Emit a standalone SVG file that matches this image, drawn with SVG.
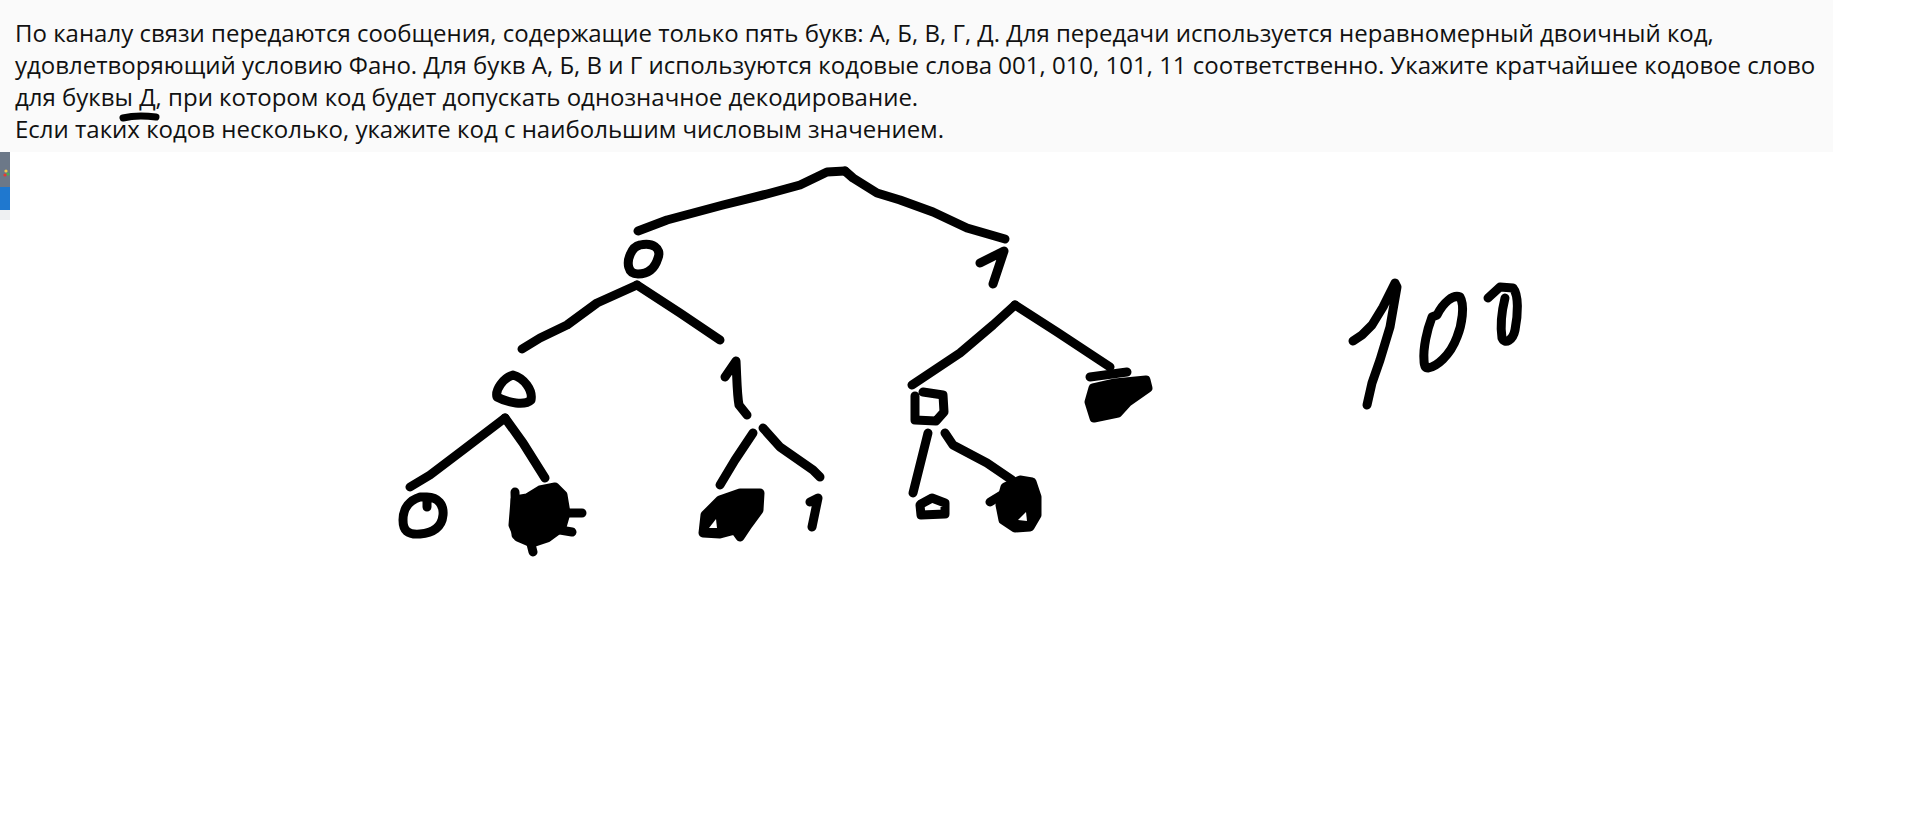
<svg xmlns="http://www.w3.org/2000/svg" width="1914" height="819" viewBox="0 0 1914 819">
<style>
.t{font-family:"Open Sans","Noto Sans","Liberation Sans",sans-serif;font-size:24px;fill:#111;}
.s{fill:none;stroke:#000;stroke-width:9;stroke-linecap:round;stroke-linejoin:round;}
.b{fill:#000;stroke:#000;stroke-width:9;stroke-linecap:round;stroke-linejoin:round;}
.w{fill:#fff;stroke:none;}
</style>
<rect width="1914" height="819" fill="#fff"/>
<rect x="0" y="0" width="1833" height="152" fill="#fafafa"/>
<g id="sidebar-icon">
<rect x="0" y="152" width="10" height="35" fill="#6c7888"/>
<rect x="0" y="187" width="10" height="23" fill="#1f78cf"/>
<rect x="0" y="210" width="10" height="10" fill="#eef0f2"/>
<circle cx="6" cy="171" r="1.6" fill="#f2c94c"/>
<circle cx="8" cy="174" r="1.6" fill="#4caf50"/>
<circle cx="5" cy="175" r="1.6" fill="#e53935"/>
</g>
<g id="question">
<text class="t" x="15" y="42">По каналу связи передаются сообщения, содержащие только пять букв: А, Б, В, Г, Д. Для передачи используется неравномерный двоичный код,</text>
<text class="t" x="15" y="74">удовлетворяющий условию Фано. Для букв А, Б, В и Г используются кодовые слова 001, 010, 101, 11 соответственно. Укажите кратчайшее кодовое слово</text>
<text class="t" x="15" y="106">для буквы Д, при котором код будет допускать однозначное декодирование.</text>
<text class="t" x="15" y="138">Если таких кодов несколько, укажите код с наибольшим числовым значением.</text>
<path id="underline-mark" d="M 123,118 C 135,115 148,116 156,117" fill="none" stroke="#000" stroke-width="7" stroke-linecap="round"/>
</g>
<g id="connectors">
<path class="s" d="M 845,171 L 827,172 L 800,185 L 767,194 L 723,205 L 667,220 L 638,231"/>
<path class="s" d="M 845,171 L 853,178 L 877,193 L 900,200 L 933,212 L 967,228 L 1005,239"/>
<path class="s" d="M 637,285 L 597,303 L 567,325 L 540,338 L 522,349"/>
<path class="s" d="M 637,285 L 680,313 L 720,340"/>
<path class="s" d="M 505,418 L 463,450 L 430,475 L 410,487"/>
<path class="s" d="M 505,418 L 523,443 L 545,478"/>
<path class="s" d="M 753,433 L 735,460 L 720,485"/>
<path class="s" d="M 763,428 L 780,447 L 813,470 L 820,477"/>
<path class="s" d="M 1015,305 L 993,325 L 960,353 L 912,385"/>
<path class="s" d="M 1015,305 L 1057,332 L 1110,367"/>
<path class="s" d="M 928,433 L 920,465 L 913,493"/>
<path class="s" d="M 945,433 L 953,445 L 987,463 L 1012,480"/>
</g>
<g id="node-0">
<path class="s" d="M 640,245 C 652,242 662,248 658,258 C 655,268 649,274 638,274 C 627,274 627,262 630,255 C 632,250 635,246 640,245 Z"/>
</g>
<g id="node-1">
<path class="s" d="M 980,263 L 1004,251 L 993,284"/>
</g>
<g id="node-00">
<path class="s" d="M 513,375 C 524,378 533,390 531,400 C 525,406 508,403 497,397 C 495,390 503,378 513,375 Z"/>
</g>
<g id="node-01">
<path class="s" d="M 725,377 L 736,361 C 737,380 737,395 739,405 L 747,415"/>
</g>
<g id="node-10">
<path class="s" d="M 923,392 L 943,395 L 944,412 L 936,421 L 915,420 L 915,396"/>
</g>
<g id="node-11">
<path class="b" d="M 1093,388 L 1115,383 L 1146,380 L 1148,388 L 1128,402 L 1118,413 L 1094,418 L 1089,402 Z"/>
<path class="s" d="M 1090,377 L 1127,372"/>
</g>
<g id="node-000">
<path class="s" d="M 427,507 L 427,497 C 438,497 444,505 443,515 C 442,527 433,533 420,534 C 407,535 403,530 403,520 C 403,508 410,500 420,497 L 427,497"/>
</g>
<g id="node-001">
<path class="b" d="M 515,500 L 527,498 L 540,490 L 555,487 L 563,495 L 566,513 L 562,527 L 547,538 L 532,543 L 518,537 L 513,525 Z"/>
<path class="s" d="M 515,492 L 516,535 M 565,513 L 582,513 M 560,530 L 572,532 M 530,540 L 533,552"/>
</g>
<g id="node-010">
<path class="b" d="M 705,515 L 720,500 L 740,493 L 760,493 L 759,510 L 748,525 L 740,537 L 735,530 L 720,534 L 703,533 Z"/>
<path class="w" d="M 709,528 L 716,519 L 717,528 Z"/>
</g>
<g id="node-011">
<path class="s" d="M 810,502 L 818,498 L 812,527"/>
</g>
<g id="node-100">
<path class="s" d="M 920,505 L 921,515 L 945,514 L 945,503 L 932,498 L 921,504 Z"/>
</g>
<g id="node-101">
<path class="b" d="M 1005,487 L 1020,480 L 1032,482 L 1037,497 L 1037,515 L 1030,527 L 1015,528 L 1003,520 L 1000,505 Z"/>
<path class="s" d="M 990,502 L 1013,488"/>
<path class="w" d="M 1018,520 L 1026,512 L 1027,521 Z"/>
</g>
<g id="answer-100">
<path class="s" d="M 1353,341 L 1362,335 L 1372,325 L 1383,307 L 1395,283 L 1397,287 L 1390,327 L 1380,360 L 1372,383 L 1367,405"/>
<path class="s" d="M 1428,368 C 1436,367 1450,356 1457,337 C 1462,325 1465,305 1460,297 C 1453,294 1443,303 1437,315 L 1432,317 C 1427,330 1423,348 1424,360 C 1424,366 1426,368 1428,368 Z"/>
<path class="s" d="M 1488,298 L 1500,287 L 1513,288 C 1519,295 1518,315 1515,330 C 1513,340 1505,345 1502,338 C 1500,325 1502,310 1505,298"/>
</g>
</svg>
